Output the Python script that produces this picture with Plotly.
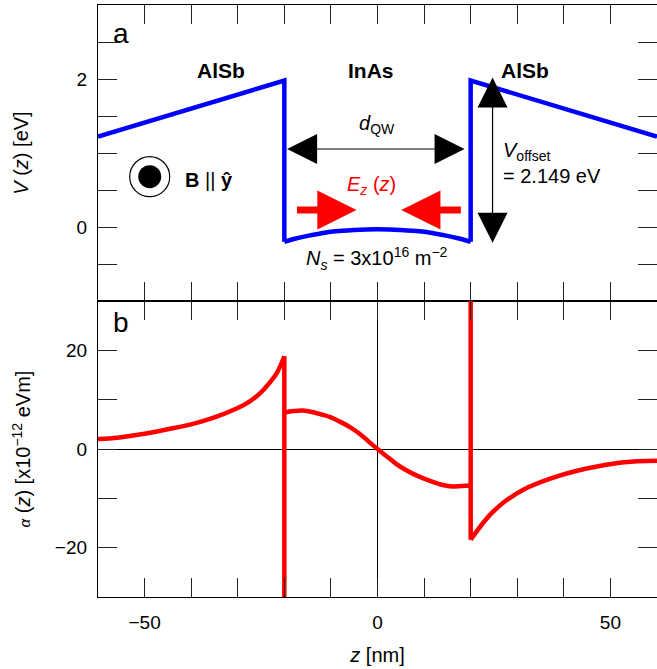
import plotly.graph_objects as go
from plotly.subplots import make_subplots

# ---------------- data ----------------
# Panel a: conduction band profile V(z) [eV]
z_a_left = [-60, -20]
V_a_left = [1.22, 1.98]
z_a_well = [-20, -17.5, -15, -12.5, -10, -7.5, -5, -2.5, 0, 2.5, 5, 7.5, 10, 12.5, 15, 17.5, 20]
V_a_well = [-0.20, -0.155, -0.12, -0.09, -0.065, -0.05, -0.04, -0.033, -0.03,
            -0.033, -0.04, -0.05, -0.065, -0.09, -0.12, -0.155, -0.20]
z_a_right = [20, 60]
V_a_right = [1.98, 1.22]

# Panel b: Rashba coefficient alpha(z) [x1e-12 eVm]
z_b_left = [-60, -55, -50, -45, -40, -35, -30, -27.5, -25, -23, -21.5, -20]
alpha_b_left = [2.0, 2.4, 3.1, 4.0, 5.0, 6.4, 8.3, 9.6, 11.5, 13.6, 15.6, 18.8]
z_b_mid = [-20, -18, -16, -14, -12, -10, -8, -6, -4, -2, 0,
           2, 4, 6, 8, 10, 12, 14, 16, 18, 20]
alpha_b_mid = [7.4, 7.7, 7.8, 7.5, 7.0, 6.4, 5.5, 4.5, 3.2, 1.6, 0.0,
               -1.5, -3.0, -4.2, -5.2, -6.0, -6.7, -7.3, -7.6, -7.5, -7.4]
z_b_right = [20, 22.4, 24.5, 27.4, 31.6, 37.4, 42.4, 47.4, 53, 60]
alpha_b_right = [-18.4, -15.3, -13.0, -10.6, -8.1, -5.9, -4.5, -3.5, -2.7, -2.4]
# interface delta spikes run off the scale
spike_low, spike_high = -40, 40

x_tickvals = [-50, 0, 50]
x_ticktext = ["\u221250", "0", "50"]
ya_tickvals = [0, 2]
ya_ticktext = ["0", "2"]
yb_tickvals = [-20, 0, 20]
yb_ticktext = ["\u221220", "0", "20"]

FONT = "Liberation Sans, Arial, sans-serif"
BLUE = "#0000ff"
RED = "#ff0000"

fig = make_subplots(rows=2, cols=1, shared_xaxes=False, vertical_spacing=0.0)

def seg(x, y, color, shape, row):
    fig.add_trace(go.Scatter(x=x, y=y, mode="lines", line=dict(color=color, width=4.5, shape=shape),
                             showlegend=False, hoverinfo="skip"), row=row, col=1)

# panel a
seg(z_a_left + [z_a_well[0]], V_a_left + [V_a_well[0]], BLUE, "linear", 1)
seg(z_a_well, V_a_well, BLUE, "spline", 1)
seg([z_a_well[-1]] + z_a_right, [V_a_well[-1]] + V_a_right, BLUE, "linear", 1)

# panel b
seg(z_b_left, alpha_b_left, RED, "spline", 2)
seg([z_b_left[-1], z_b_left[-1], z_b_mid[0]], [alpha_b_left[-1], spike_low, alpha_b_mid[0]], RED, "linear", 2)
seg(z_b_mid, alpha_b_mid, RED, "spline", 2)
seg([z_b_mid[-1], z_b_mid[-1], z_b_right[0]], [alpha_b_mid[-1], spike_high, alpha_b_right[0]], RED, "linear", 2)
seg(z_b_right, alpha_b_right, RED, "spline", 2)

axis_common = dict(showline=True, linecolor="black", linewidth=1.2, mirror="ticks",
                   ticks="inside", ticklen=19, tickwidth=1.1, tickcolor="#222",
                   showgrid=False, automargin=False,
                   tickfont=dict(family=FONT, size=19, color="black"))

def minor(d):
    return dict(dtick=d, ticks="inside", ticklen=19, tickwidth=1.1, tickcolor="#222", showgrid=False)

fig.update_xaxes(range=[-60, 60], tickvals=x_tickvals, showticklabels=False,
                 minor=minor(10), zeroline=False, **axis_common, row=1, col=1)
fig.update_xaxes(range=[-60, 60], tickvals=x_tickvals, ticktext=x_ticktext,
                 minor=minor(10), ticklabelstandoff=8,
                 zeroline=True, zerolinecolor="black", zerolinewidth=1.2,
                 title=dict(text="<i>z</i> [nm]", font=dict(family=FONT, size=20, color="black"),
                            standoff=16),
                 **axis_common, row=2, col=1)
fig.update_yaxes(range=[-1, 3], tickvals=ya_tickvals, ticktext=ya_ticktext,
                 minor=minor(0.5), ticklabelstandoff=6, zeroline=False,
                 title=dict(text="<i>V</i> (<i>z</i>) [eV]", font=dict(family=FONT, size=20, color="black"),
                            standoff=42),
                 **axis_common, row=1, col=1)
fig.update_yaxes(range=[-30, 30], tickvals=yb_tickvals, ticktext=yb_ticktext,
                 minor=minor(10), ticklabelstandoff=6,
                 zeroline=True, zerolinecolor="black", zerolinewidth=1.2,
                 title=dict(text="<span style='font-size:15px'><i>\u03b1</i></span> (<i>z</i>) [x10<sup>\u221212</sup> eVm]",
                            font=dict(family=FONT, size=20, color="black"), standoff=18),
                 **axis_common, row=2, col=1)

fig.update_layout(
    width=657, height=669,
    margin=dict(l=98, r=0, t=5, b=72, autoexpand=False),
    paper_bgcolor="white", plot_bgcolor="white",
    font=dict(family=FONT, color="black"),
)
fig.layout.yaxis.domain = [0.5, 1.0]
fig.layout.yaxis2.domain = [0.0, 0.5]

ann = []
def txt(x, y, text, size=20, color="black", xanchor="center", align="center", xref="x", yref="y"):
    ann.append(dict(x=x, y=y, xref=xref, yref=yref, text=text, showarrow=False,
                    xanchor=xanchor, yanchor="middle", align=align,
                    font=dict(family=FONT, size=size, color=color)))

txt(-55.1, 2.62, "a", size=28)
txt(-33.6, 2.11, "<b>AlSb</b>", size=21)
txt(-1.3, 2.11, "<b>InAs</b>", size=21)
txt(31.7, 2.11, "<b>AlSb</b>", size=21)
txt(-0.2, 1.38, "<i>d</i><sub>QW</sub>", size=20)
txt(26.6, 0.86, "<i>V</i><sub>offset</sub><br>= 2.149 eV", size=20, xanchor="left", align="left")
txt(-1.3, 0.56, "<i>E<sub>z</sub></i> (<i>z</i>)", size=20, color=RED)
txt(-0.2, -0.42, "<i>N<sub>s</sub></i> = 3x10<sup>16</sup> m<sup>\u22122</sup>", size=20)
txt(-41.8, 0.64, "<b>B</b> || <b>\u0177</b>", size=20, xanchor="left")
txt(-55.1, 25.6, "b", size=28, xref="x2", yref="y2")

def arrow(x0, y0, x1, y1, color, width, size, side="end"):
    ann.append(dict(x=x1, y=y1, ax=x0, ay=y0, xref="x", yref="y", axref="x", ayref="y",
                    text="", showarrow=True, arrowhead=2, startarrowhead=2,
                    arrowsize=size, startarrowsize=size, arrowwidth=width,
                    arrowcolor=color, arrowside=side, standoff=0, startstandoff=0,
                    borderpad=0, font=dict(size=1)))

arrow(18.8, 1.054, -19.4, 1.054, "black", 1.2, 5.0, side="end+start")
arrow(24.7, -0.22, 24.7, 2.02, "black", 1.2, 5.0, side="end+start")
arrow(-17.4, 0.23, -4.5, 0.23, RED, 7, 1.12)
arrow(18.0, 0.23, 5.1, 0.23, RED, 7, 1.12)

fig.update_layout(annotations=ann)

# B field symbol (out of plane)
fig.add_shape(type="circle", xref="x", yref="y", xsizemode="pixel", ysizemode="pixel",
              xanchor=-48.9, yanchor=0.68, x0=-20, x1=20, y0=-20, y1=20,
              line=dict(color="black", width=1.2), fillcolor="rgba(0,0,0,0)")
fig.add_shape(type="circle", xref="x", yref="y", xsizemode="pixel", ysizemode="pixel",
              xanchor=-48.9, yanchor=0.68, x0=-11.5, x1=11.5, y0=-11.5, y1=11.5,
              line=dict(color="black", width=0), fillcolor="black")

# page without the default 8px body margin so the figure fills the window exactly
fig.write_html("out.html", config={"displayModeBar": False},
               post_script="document.body.style.margin='0';document.body.style.overflow='hidden';")
